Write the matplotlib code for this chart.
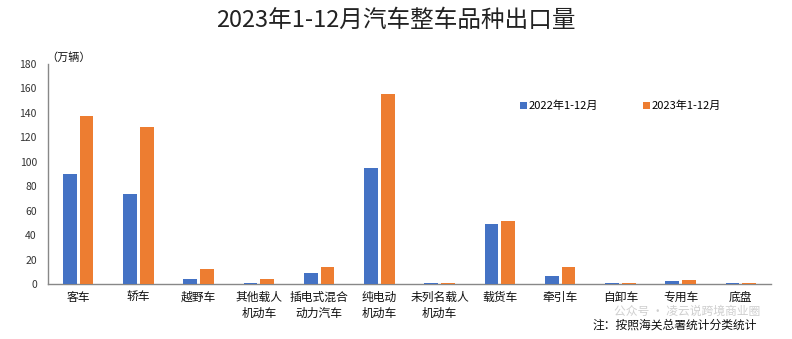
import matplotlib
matplotlib.use("Agg")
import matplotlib.pyplot as plt
import numpy as np

plt.rcParams['font.family'] = ['Noto Sans CJK SC', 'DejaVu Sans']

categories = ["客车", "轿车", "越野车", "其他载人\n机动车", "插电式混合\n动力汽车", "纯电动\n机动车",
              "未列名载人\n机动车", "载货车", "牵引车", "自卸车", "专用车", "底盘"]
v2022 = [90, 74, 4.3, 1.2, 9, 95, 1.2, 49, 6.5, 1.2, 2.5, 1.2]
v2023 = [137.5, 128.5, 12.5, 4, 14, 155.5, 1.2, 51.5, 14, 1.0, 3.3, 1.2]
yticks = [0, 20, 40, 60, 80, 100, 120, 140, 160, 180]
series_names = ["2022年1-12月", "2023年1-12月"]

blue = "#4472C4"
orange = "#ED7D31"

fig = plt.figure(figsize=(7.92, 3.39), dpi=100)
ax = fig.add_axes([48/792, 1 - 284/339, (771-48)/792, (284-64)/339])

x = np.arange(len(categories))
w = 0.23
ax.bar(x - 0.14, v2022, width=w, color=blue, label=series_names[0], zorder=3)
ax.bar(x + 0.14, v2023, width=w, color=orange, label=series_names[1], zorder=3)

ax.set_xlim(-0.5, len(categories) - 0.5)
ax.set_ylim(0, 180)
ax.set_yticks(yticks)
ax.set_yticklabels([str(t) for t in yticks], fontsize=7.5, color="#333333")
ax.set_xticks(x)
ax.set_xticklabels(categories, fontsize=8.5, color="#111111", linespacing=1.3)
ax.tick_params(axis='both', length=0)
ax.tick_params(axis='y', pad=8)
ax.tick_params(axis='x', pad=5)
for s in ['top', 'right']:
    ax.spines[s].set_visible(False)
for s in ['left', 'bottom']:
    ax.spines[s].set_color("#888888")
    ax.spines[s].set_linewidth(1.0)
    ax.spines[s].set_zorder(2)

fig.text(0.5, 1 - 20/339, "2023年1-12月汽车整车品种出口量", ha='center', va='center',
         fontsize=17, color="#222222")
fig.text(46/792, 1 - 58/339, "（万辆）", ha='left', va='center', fontsize=8, color="#111111")

leg = ax.legend(loc='center left', bbox_to_anchor=(510/792, 1 - 106/339),
                bbox_transform=fig.transFigure, ncol=2, frameon=False,
                fontsize=8, handlelength=0.6, handleheight=0.6, handletextpad=0.2,
                columnspacing=4.0)

fig.text(760/792, 1 - 311/339, "公众号 · 凌云说跨境商业圈", ha='right', va='center',
         fontsize=8.5, color="#BBBBBB", alpha=0.7)
fig.text(757/792, 1 - 325/339, "注：按照海关总署统计分类统计", ha='right', va='center',
         fontsize=8.5, color="#111111")

fig.savefig("out.png", dpi=100)
